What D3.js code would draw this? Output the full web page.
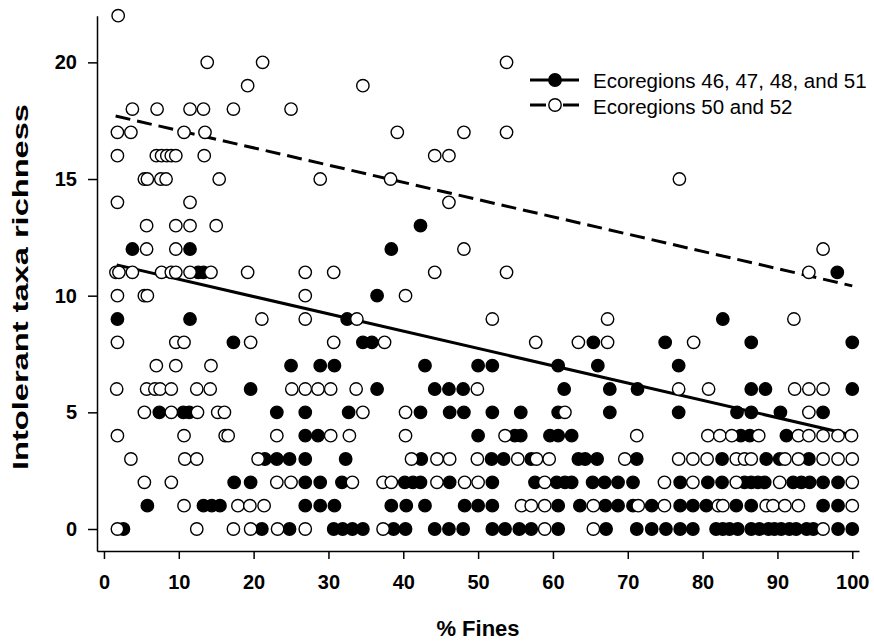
<!DOCTYPE html>
<html>
<head>
<meta charset="utf-8">
<script src="https://cdn.jsdelivr.net/npm/d3@7"></script>
<style>
  body { margin: 0; background: #fff; }
  svg text { fill: #000; }
</style>
</head>
<body>
<div id="chart"></div>
<script>
// Ecoregions 46, 47, 48, and 51 (filled) : [% fines, intolerant taxa richness]
const filledPts = [
  [42.3, 13],
  [3.8, 12], [11.5, 12], [38.4, 12],
  [12.6, 11], [13.3, 11], [98.0, 11],
  [36.5, 10],
  [1.8, 9], [11.5, 9], [32.5, 9], [82.7, 9],
  [17.3, 8], [34.6, 8], [35.8, 8], [65.4, 8], [75.0, 8], [86.5, 8], [100, 8],
  [25.0, 7], [28.9, 7], [30.8, 7], [42.9, 7], [50.0, 7], [51.9, 7], [60.7, 7], [66.0, 7], [76.8, 7],
  [19.6, 6], [36.5, 6], [44.2, 6], [46.1, 6], [48.0, 6], [61.5, 6], [67.6, 6], [71.3, 6], [86.5, 6], [88.4, 6], [100, 6],
  [7.4, 5], [10.6, 5], [11.4, 5], [23.1, 5], [26.9, 5], [32.7, 5], [42.3, 5], [46.2, 5], [48.1, 5], [51.9, 5],
  [55.7, 5], [60.7, 5], [67.6, 5], [76.8, 5], [84.6, 5], [86.5, 5], [90.4, 5], [96.1, 5],
  [26.9, 4], [28.6, 4], [50.0, 4], [54.9, 4], [55.7, 4], [59.6, 4], [60.7, 4], [62.5, 4], [85.1, 4], [86.3, 4], [91.2, 4],
  [21.5, 3], [23.1, 3], [24.8, 3], [26.9, 3], [32.3, 3], [42.4, 3], [51.8, 3], [53.4, 3], [57.1, 3], [63.4, 3],
  [64.3, 3], [65.9, 3], [71.2, 3], [82.6, 3], [88.5, 3], [90.3, 3], [94.2, 3],
  [17.4, 2], [19.6, 2], [26.9, 2], [28.9, 2], [31.8, 2], [40.2, 2], [41.3, 2], [42.3, 2], [46.2, 2], [51.9, 2],
  [57.6, 2], [60.5, 2], [61.6, 2], [62.5, 2], [65.3, 2], [66.9, 2], [68.7, 2], [70.7, 2], [77.0, 2], [80.7, 2],
  [82.6, 2], [85.6, 2], [86.5, 2], [87.4, 2], [88.3, 2], [92.1, 2], [93.2, 2], [94.3, 2], [96.1, 2], [98.1, 2],
  [5.8, 1], [13.3, 1], [14.4, 1], [15.5, 1], [26.9, 1], [28.9, 1], [30.8, 1], [38.4, 1], [40.4, 1], [42.9, 1],
  [48.2, 1], [50.0, 1], [51.9, 1], [60.7, 1], [63.6, 1], [67.0, 1], [68.7, 1], [70.7, 1], [73.2, 1], [77.0, 1],
  [78.7, 1], [80.5, 1], [84.5, 1], [86.5, 1], [96.1, 1], [98.1, 1],
  [2.6, 0], [21.1, 0], [24.8, 0], [30.7, 0], [31.9, 0], [33.2, 0], [34.6, 0], [38.7, 0], [40.3, 0], [44.2, 0],
  [46.1, 0], [48.0, 0], [51.9, 0], [53.6, 0], [55.5, 0], [57.1, 0], [60.7, 0], [67.1, 0], [71.2, 0], [73.2, 0],
  [75.1, 0], [77.0, 0], [78.7, 0], [81.8, 0], [82.7, 0], [83.6, 0], [84.7, 0], [86.5, 0], [87.6, 0], [88.8, 0],
  [89.6, 0], [90.5, 0], [91.6, 0], [92.5, 0], [93.9, 0], [94.8, 0], [98.1, 0], [100, 0]
];

// Ecoregions 50 and 52 (open)
const openPts = [
  [1.9, 22],
  [13.8, 20], [21.2, 20], [53.8, 20],
  [19.2, 19], [34.6, 19],
  [3.8, 18], [7.1, 18], [11.5, 18], [13.3, 18], [17.3, 18], [25.0, 18],
  [1.8, 17], [3.6, 17], [10.7, 17], [13.5, 17], [39.2, 17], [48.1, 17], [53.8, 17],
  [1.8, 16], [7.0, 16], [7.7, 16], [8.4, 16], [9.0, 16], [9.6, 16], [13.4, 16], [44.2, 16], [46.1, 16],
  [5.4, 15], [5.8, 15], [7.6, 15], [8.3, 15], [15.4, 15], [28.9, 15], [38.3, 15], [76.9, 15],
  [1.8, 14], [11.5, 14], [46.1, 14],
  [5.7, 13], [9.6, 13], [11.5, 13], [15.0, 13],
  [5.7, 12], [9.6, 12], [48.1, 12], [96.1, 12],
  [1.6, 11], [2.0, 11], [3.8, 11], [7.7, 11], [9.0, 11], [9.6, 11], [11.5, 11], [14.3, 11], [19.2, 11],
  [26.9, 11], [30.7, 11], [44.2, 11], [53.8, 11], [94.2, 11],
  [1.8, 10], [5.4, 10], [5.8, 10], [26.9, 10], [40.3, 10],
  [21.1, 9], [26.9, 9], [33.8, 9], [51.9, 9], [67.3, 9], [92.2, 9],
  [1.8, 8], [9.6, 8], [10.7, 8], [19.6, 8], [30.7, 8], [37.5, 8], [57.7, 8], [63.4, 8], [67.3, 8], [78.8, 8],
  [7.0, 7], [9.6, 7], [14.3, 7],
  [1.7, 6], [5.7, 6], [6.8, 6], [7.5, 6], [9.0, 6], [12.4, 6], [14.2, 6], [25.1, 6], [26.9, 6], [28.6, 6],
  [30.3, 6], [33.7, 6], [49.9, 6], [76.8, 6], [80.8, 6], [92.3, 6], [94.2, 6], [96.1, 6],
  [5.4, 5], [9.0, 5], [12.5, 5], [15.2, 5], [16.1, 5], [34.6, 5], [40.3, 5], [61.6, 5], [94.2, 5],
  [1.8, 4], [10.7, 4], [16.2, 4], [16.6, 4], [23.1, 4], [30.3, 4], [32.8, 4], [40.3, 4], [53.6, 4], [71.2, 4],
  [80.7, 4], [82.3, 4], [83.9, 4], [87.5, 4], [92.8, 4], [94.2, 4], [96.1, 4], [98.1, 4], [99.9, 4],
  [3.6, 3], [10.8, 3], [12.4, 3], [20.6, 3], [41.1, 3], [44.5, 3], [46.2, 3], [49.9, 3], [55.3, 3], [57.8, 3],
  [59.5, 3], [69.6, 3], [76.8, 3], [78.7, 3], [80.6, 3], [84.5, 3], [85.6, 3], [86.5, 3], [91.0, 3], [92.8, 3],
  [96.1, 3], [98.1, 3], [100, 3],
  [5.4, 2], [9.0, 2], [23.1, 2], [25.0, 2], [33.2, 2], [37.3, 2], [38.4, 2], [44.5, 2], [48.2, 2], [50.0, 2],
  [58.9, 2], [74.9, 2], [78.7, 2], [84.5, 2], [90.3, 2], [100, 2],
  [10.7, 1], [17.9, 1], [19.5, 1], [21.4, 1], [55.8, 1], [57.1, 1], [58.9, 1], [65.4, 1], [71.4, 1], [74.9, 1],
  [82.1, 1], [82.7, 1], [88.5, 1], [89.4, 1], [91.0, 1], [92.8, 1], [100, 1],
  [1.8, 0], [12.4, 0], [17.3, 0], [19.6, 0], [23.2, 0], [26.9, 0], [37.3, 0], [58.9, 0], [65.4, 0], [96.1, 0]
];

// regression lines (endpoints in data units)
const trendFilled = [[1.7, 11.32], [100, 4.03]];
const trendOpen = [[1.56, 17.70], [100, 10.42]];

const xTicks = [0, 10, 20, 30, 40, 50, 60, 70, 80, 90, 100];
const yTicks = [0, 5, 10, 15, 20];
const legendLabels = ["Ecoregions 46, 47, 48, and 51", "Ecoregions 50 and 52"];

const W = 874, H = 642;

const svg = d3.select("#chart").append("svg")
  .attr("width", W)
  .attr("height", H);

const x = d3.scaleLinear().domain([-0.93, 100.9]).range([97, 859]);
const y = d3.scaleLinear().domain([-0.943, 22]).range([551, 15.7]);

const tickFont = "'Liberation Sans Narrow', 'Arial Narrow', 'Liberation Sans', Arial, sans-serif";

// x axis
const gx = svg.append("g")
  .attr("transform", "translate(0,551)")
  .call(d3.axisBottom(x).tickValues(xTicks).tickSize(8).tickSizeOuter(0).tickPadding(16));
gx.selectAll("text")
  .style("font-family", tickFont)
  .style("font-weight", "bold")
  .style("font-size", "20px");

// y axis
const gy = svg.append("g")
  .attr("transform", "translate(97,0)")
  .call(d3.axisLeft(y).tickValues(yTicks).tickSize(9).tickSizeOuter(0).tickPadding(11));
gy.selectAll("text")
  .style("font-family", tickFont)
  .style("font-weight", "bold")
  .style("font-size", "20px");

svg.selectAll(".domain, .tick line")
  .attr("stroke", "#000")
  .attr("stroke-width", 1.5);

// axis titles
svg.append("text")
  .attr("x", 478)
  .attr("y", 636)
  .attr("text-anchor", "middle")
  .style("font-family", "Arial, 'Liberation Sans', sans-serif")
  .style("font-weight", "bold")
  .style("font-size", "22px")
  .text("% Fines");

// the y title is drawn stretched along its length, as in the source
svg.append("text")
  .attr("transform", "translate(28,287) rotate(-90)")
  .attr("x", -183)
  .attr("textLength", 366)
  .attr("lengthAdjust", "spacingAndGlyphs")
  .style("font-family", "Arial, 'Liberation Sans', sans-serif")
  .style("font-weight", "bold")
  .style("font-size", "22px")
  .text("Intolerant taxa richness");

// trend lines
const line = d3.line().x(d => x(d[0])).y(d => y(d[1]));

svg.append("path")
  .datum(trendFilled)
  .attr("d", line)
  .attr("fill", "none")
  .attr("stroke", "#000")
  .attr("stroke-width", 3);

svg.append("path")
  .datum(trendOpen)
  .attr("d", line)
  .attr("fill", "none")
  .attr("stroke", "#000")
  .attr("stroke-width", 3)
  .attr("stroke-dasharray", "15,7");

// points
const r = 6.2;
svg.append("g").selectAll("circle")
  .data(filledPts)
  .enter().append("circle")
  .attr("cx", d => x(d[0]))
  .attr("cy", d => y(d[1]))
  .attr("r", r)
  .attr("fill", "#000")
  .attr("stroke", "#000")
  .attr("stroke-width", 1.4);

svg.append("g").selectAll("circle")
  .data(openPts)
  .enter().append("circle")
  .attr("cx", d => x(d[0]))
  .attr("cy", d => y(d[1]))
  .attr("r", r)
  .attr("fill", "#fff")
  .attr("stroke", "#000")
  .attr("stroke-width", 1.4);

// legend
const legend = svg.append("g").attr("transform", "translate(530,80)");
legend.append("line")
  .attr("x1", 0).attr("x2", 49)
  .attr("stroke", "#000").attr("stroke-width", 3);
legend.append("circle")
  .attr("cx", 25).attr("r", r)
  .attr("fill", "#000").attr("stroke", "#000").attr("stroke-width", 1.4);
legend.append("line")
  .attr("x1", 0).attr("x2", 49).attr("y1", 25).attr("y2", 25)
  .attr("stroke", "#000").attr("stroke-width", 3)
  .attr("stroke-dasharray", "16,17,16");
legend.append("circle")
  .attr("cx", 25).attr("cy", 25).attr("r", r)
  .attr("fill", "#fff").attr("stroke", "#000").attr("stroke-width", 1.4);

legend.selectAll("text.lab")
  .data(legendLabels)
  .enter().append("text")
  .attr("class", "lab")
  .attr("x", 63)
  .attr("y", (d, i) => 7.5 + i * 26)
  .style("font-family", "Arial, 'Liberation Sans', sans-serif")
  .style("font-size", "20.5px")
  .text(d => d);
</script>
</body>
</html>
